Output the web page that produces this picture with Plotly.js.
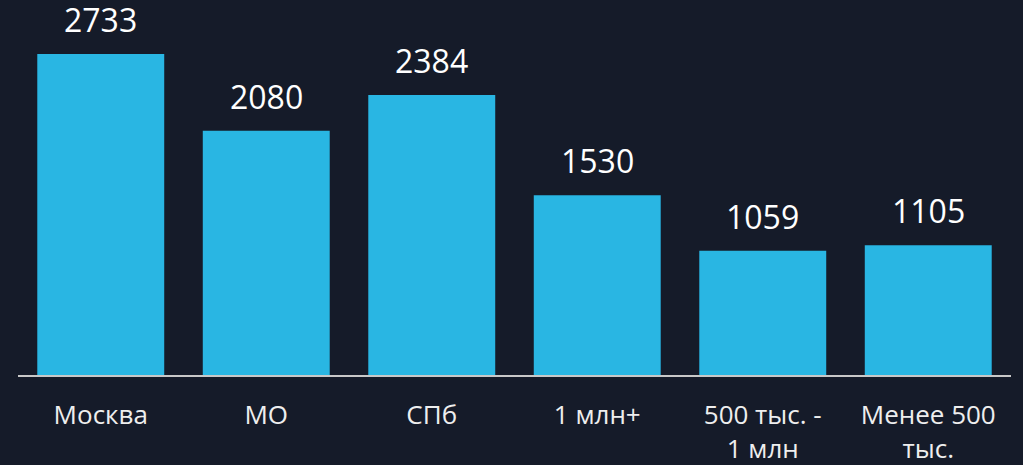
<!DOCTYPE html>
<html>
<head>
<meta charset="utf-8">
<script src="https://cdn.plot.ly/plotly-3.0.1.min.js"></script>
<style>
html,body{margin:0;padding:0;background:#151b29;}
#chart{width:1023px;height:465px;}
</style>
</head>
<body>
<div id="chart"></div>
<script>
const categories = ["Москва", "МО", "СПб", "1 млн+", "500 тыс. -<br>1 млн", "Менее 500<br>тыс."];
const values = [2733, 2080, 2384, 1530, 1059, 1105];

const trace = {
  type: "bar",
  x: categories,
  y: values,
  marker: {color: "#29b6e3"},
  width: 0.767,
  hoverinfo: "none"
};

const annotations = categories.map((c, i) => ({
  x: c, y: values[i], xref: "x", yref: "y",
  text: String(values[i]),
  showarrow: false, yanchor: "bottom", yshift: 11,
  font: {family: "Open Sans", size: 32, color: "#ffffff"}
}));

const layout = {
  width: 1023, height: 465,
  margin: {l: 18, r: 12, t: 0, b: 90},
  paper_bgcolor: "#151b29",
  plot_bgcolor: "#151b29",
  showlegend: false,
  xaxis: {
    showline: true, linecolor: "#c8c8c8", linewidth: 2,
    ticks: "outside", ticklen: 16, tickcolor: "rgba(0,0,0,0)",
    tickfont: {family: "Open Sans", size: 26, color: "#eeeeee"},
    showgrid: false, zeroline: false, fixedrange: true
  },
  yaxis: {
    range: [0, 3193], visible: false, showgrid: false, zeroline: false, fixedrange: true
  },
  annotations: annotations
};

Plotly.newPlot("chart", [trace], layout, {displayModeBar: false, staticPlot: true});
</script>
</body>
</html>
